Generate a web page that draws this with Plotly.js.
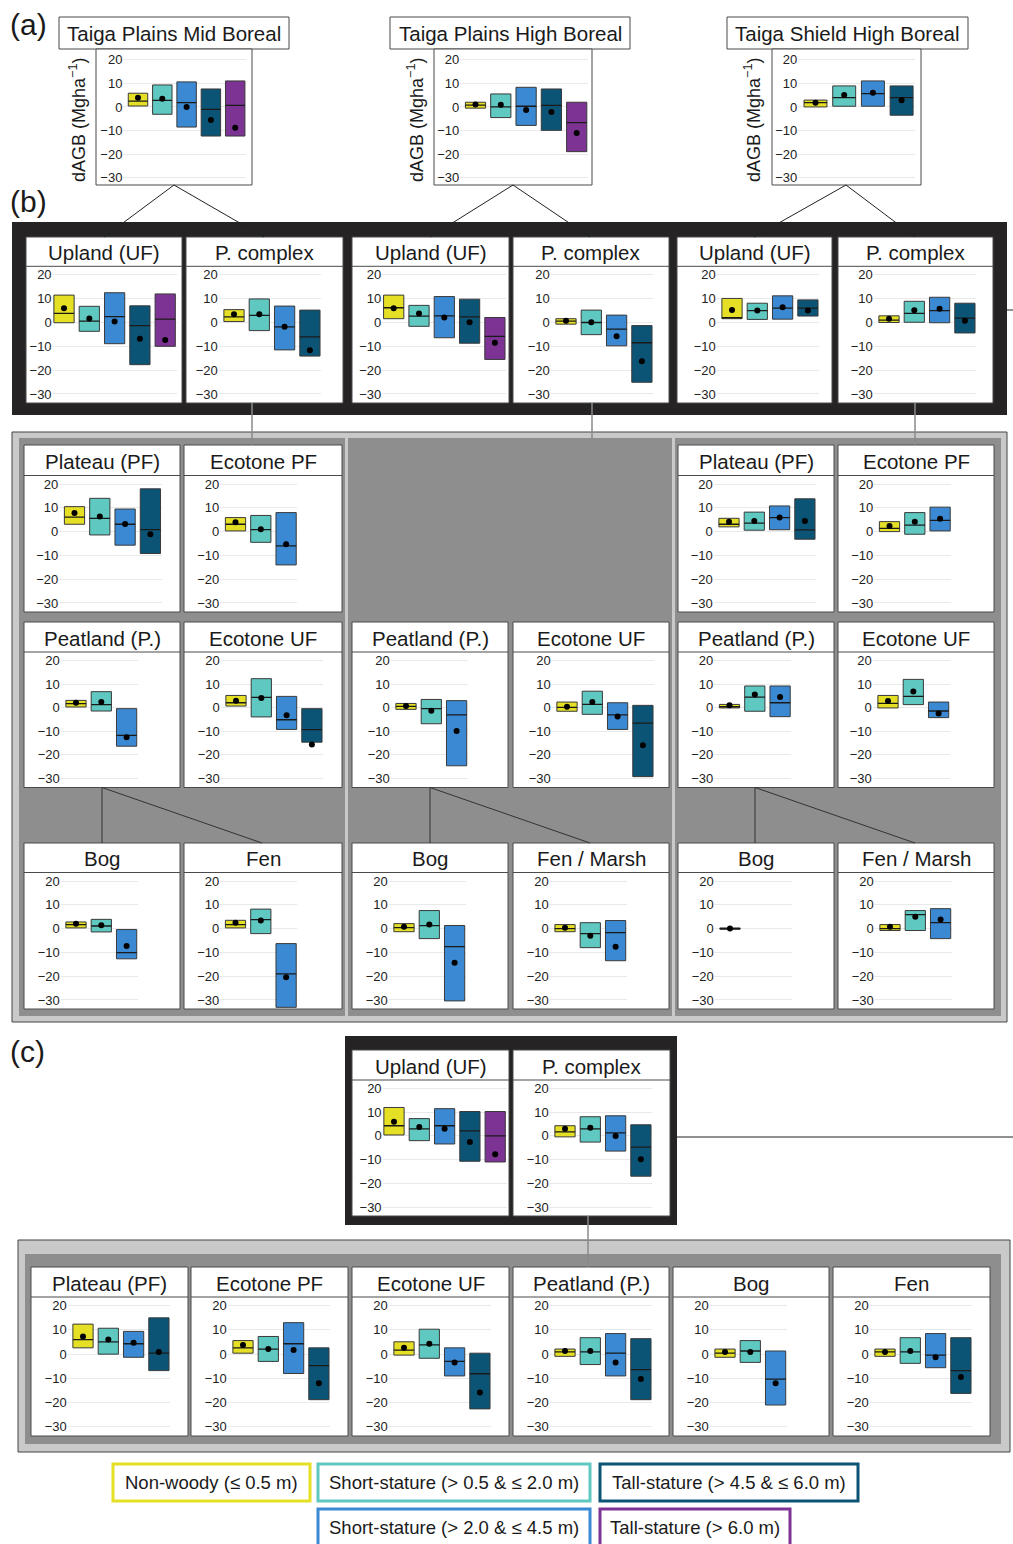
<!DOCTYPE html>
<html><head><meta charset="utf-8">
<script src="https://cdn.plot.ly/plotly-3.0.1.min.js"></script>
<style>html,body{margin:0;padding:0;background:#fff}</style>
</head><body><div id="chart" style="width:1013px;height:1544px"></div>
<script>
// ---- DATA: each row = [q1, median, q3, mean] per stature class ----
const classes = ['Non-woody (≤ 0.5 m)','Short-stature (> 0.5 & ≤ 2.0 m)','Short-stature (> 2.0 & ≤ 4.5 m)','Tall-stature (> 4.5 & ≤ 6.0 m)','Tall-stature (> 6.0 m)'];
const classColors = ['#e5df25','#5ec8c1','#3b89d2','#0c5475','#7c3393'];
const yTicks = [-30,-20,-10,0,10,20];

// (a) ecozones
const a_TPM = [[0.4,2.5,5.8,3.9],[-3.1,2.8,9.3,3.5],[-8.5,1.8,10.6,0],[-12.3,-1,7.6,-5.5],[-12.3,0.7,11,-8.8]];
const a_TPH = [[-0.5,0.8,2.0,1.0],[-4.5,0,5.5,0.9],[-7.8,0.3,8.3,-1.3],[-9.9,0.7,7.6,-2.1],[-18.9,-6.6,2,-11]];
const a_TSH = [[0,1.8,2.9,1.8],[0.3,3.9,8.9,5.1],[0.3,5.6,11,6],[-3.5,3.9,8.9,2.8]];
// (b) upland / peatland complex
const b_TPM_UF = [[-0.1,3.8,11.5,6],[-3.7,0.6,6.8,1.7],[-8.9,2.5,12.5,0.4],[-17.7,-1.3,7,-6.8],[-10,1.4,12,-7.3]];
const b_TPM_PC = [[0.4,2.4,5.4,3.5],[-3.4,3,9.9,3.5],[-11.5,-1.8,6.9,-1.8],[-14.1,-6,5.2,-11.7]];
const b_TPH_UF = [[1.6,6.2,11.5,6],[-1.6,2.7,7.2,3.8],[-6.4,2.8,10.9,2.1],[-8.7,2.4,9.8,0.1],[-15.5,-5.8,2.1,-8.5]];
const b_TPH_PC = [[-0.7,0.6,1.6,0.7],[-5.1,0,5.2,0.1],[-9.8,-2.8,3.1,-5.8],[-25.1,-8.5,-1.3,-16.3]];
const b_TSH_UF = [[1.6,2,10.1,5.2],[1.3,5,8.1,5],[1.4,6,11.2,6.4],[2.7,6,9.5,5]];
const b_TSH_PC = [[0,1,2.8,1.6],[0.1,3.8,8.9,5.1],[-0.1,5,10.6,5.8],[-4.4,1.8,8.1,0.7]];
// (b) peatland complex components
const b_TPM_PF  = [[3.1,6.1,10.5,7.8],[-1.4,5.6,14,6.4],[-5.7,3.1,9.5,3.2],[-9.2,0.8,18,-1.1]];
const b_TPM_EPF = [[0.3,3.1,5.9,3.9],[-4.5,0.8,6.8,1],[-14,-6,8,-5.3]];
const b_TSH_PF  = [[2,3.1,5.6,4.2],[0.6,3.6,8.2,4.5],[0.8,5.9,10.8,5.9],[-3.2,0.7,13.8,4.5]];
const b_TSH_EPF = [[0,1.4,4.2,2.4],[-1.1,2.7,8,4.2],[0.3,4.7,10.3,5.4]];
const b_TPM_P   = [[0.3,1.7,3.1,2.1],[-1.4,1.3,6.8,2.4],[-16.3,-11.7,-0.4,-12.5]];
const b_TPM_EUF = [[0.7,2.1,5.2,3],[-3.9,4.4,12.3,4.1],[-9.2,-5.1,4.8,-3.2],[-14.6,-9.3,-0.4,-15.6]];
const b_TPH_P   = [[-0.7,0.6,1.8,0.7],[-6.8,-0.4,3.5,-1.3],[-24.6,-3,3,-9.9]];
const b_TPH_EUF = [[-1.5,0.1,2.4,0.4],[-2.8,1.4,7,2.4],[-9.2,-3,2.1,-3.7],[-29.2,-6.5,1,-15.9]];
const b_TSH_P   = [[-0.1,0.4,1.4,1],[-1.5,4.5,9.2,5.6],[-3.8,2.1,9.2,4.5]];
const b_TSH_EUF = [[-0.1,1.8,5.2,2.8],[1.3,4.8,12,6.9],[-4.2,-1.4,2.4,-2.4]];
const b_TPM_Bog = [[0.3,1.7,2.8,2],[-1.4,1.1,3.9,1.4],[-12.7,-10.1,-0.4,-7.3]];
const b_TPM_Fen = [[0.3,1.7,3.5,2.5],[-2.1,3.8,8.2,3.4],[-33.1,-19,-6.3,-20.4]];
const b_TPH_Bog = [[-1.3,0.4,2.1,0.8],[-4.2,1.3,7.6,1.7],[-30.4,-7.6,1.3,-14.3]];
const b_TPH_Fen = [[-1.3,0,1.7,0.4],[-8,-2.1,2.5,-3],[-13.5,-1.7,3.4,-7.6]];
const b_TSH_Bog = [[-0.3,0,0.3,0]];
const b_TSH_Fen = [[-0.8,0,1.7,0.8],[-0.8,5.9,7.6,5],[-4.2,2.5,8.4,3.8]];
// (c) whole study area
const c_UF  = [[0.4,4.3,12,6],[-2,3,7.3,3.8],[-3.4,4.3,11.5,3],[-10.7,2.1,10.3,-2.6],[-11,0,10.3,-7.7]];
const c_PC  = [[-0.4,1.7,4.3,3],[-2.6,3,8.1,3.4],[-6.4,1.3,8.5,0],[-17,-4.7,4.7,-9.8]];
const c_PF  = [[2.6,6,12.4,7.3],[0,5.1,10.7,6],[-1.3,4.3,9.4,4.7],[-6.8,0.4,15,0.9]];
const c_EPF = [[0.4,2.6,5.6,3.8],[-3,2.1,7.3,2.1],[-8,4.3,13,1.7],[-18.8,-4.7,2.6,-12]];
const c_EUF = [[-0.4,1.7,5.1,2.6],[-1.7,3.8,10.3,4.3],[-9,-3,2.6,-3.4],[-22.6,-8.1,0.4,-15.8]];
const c_P   = [[-0.9,0.9,2.1,1.3],[-4.3,0.9,6.8,1.3],[-9,0.4,8.5,-3.4],[-18.8,-6.4,6.4,-10.3]];
const c_Bog = [[-1.3,0.4,2.1,0.9],[-3.4,1.3,5.6,0.9],[-21,-10.3,1.3,-12]];
const c_Fen = [[-0.9,0.9,2.1,0.9],[-3.8,0.9,6.8,1.3],[-5.6,-0.4,8.5,-1.3],[-16.2,-6.8,6.8,-9.4]];

// ---- helpers ----
const W = 1013, H = 1544;
const FONT = 'Liberation Sans, Arial, sans-serif';
const TICKSIZE = 13;
const px = x => x / W, py = y => 1 - y / H;
const traces = [], shapes = [], annotations = [];
const layout = {width:W, height:H, margin:{l:0,r:0,t:0,b:0}, paper_bgcolor:'#fff', plot_bgcolor:'rgba(0,0,0,0)',
  showlegend:false, font:{family:FONT, color:'#1a1a1a'}, barmode:'overlay'};
let axN = 0;
function rect(x0,y0,x1,y1,fill,lc,lw){
  shapes.push({type:'rect',xref:'paper',yref:'paper',x0:px(x0),x1:px(x1),y0:py(y1),y1:py(y0),
    fillcolor:fill,line:{color:lc||fill,width:lw===undefined?0:lw},layer:'below'});
}
function seg(x0,y0,x1,y1,color,w,layer){
  shapes.push({type:'line',xref:'paper',yref:'paper',x0:px(x0),x1:px(x1),y0:py(y0),y1:py(y1),
    line:{color:color,width:w},layer:layer||'above'});
}
function text(x,y,t,size,o){
  o = o||{};
  annotations.push(Object.assign({xref:'paper',yref:'paper',x:px(x),y:py(y),text:t,showarrow:false,
    font:{family:FONT,size:size,color:'#1a1a1a'},xanchor:'center',yanchor:'middle'},o));
}
function plotArea(L,T,B,data,n,c0,s,yr){
  axN++;
  const k = axN===1?'':String(axN);
  const xr = [n>=5 ? -0.45 : -0.6, n-1+0.45];
  const dx0 = L + c0 + xr[0]*s, dx1 = L + c0 + xr[1]*s;
  layout['xaxis'+k] = {domain:[px(dx0),px(dx1)], range:xr, anchor:'y'+k, showgrid:false, zeroline:false,
    showticklabels:false, showline:false, ticks:'', fixedrange:true};
  layout['yaxis'+k] = {domain:[py(B),py(T)], range:yr, anchor:'x'+k, tickvals:yTicks,
    gridcolor:'#e9e9e9', gridwidth:1, zeroline:false, showline:false, ticks:'',
    tickfont:{family:FONT,size:TICKSIZE,color:'#222'}, fixedrange:true};
  const idx = data.map((d,i)=>i);
  const bw = 0.8;
  traces.push({type:'bar', x:idx, base:data.map(d=>d[0]), y:data.map(d=>d[2]-d[0]), width:bw,
    marker:{color:idx.map(i=>classColors[i]), line:{color:'#3a3a3a',width:1}},
    xaxis:'x'+k, yaxis:'y'+k, hoverinfo:'skip'});
  const mx = [], my = [];
  data.forEach((d,i)=>{ mx.push(i-bw/2, i+bw/2, null); my.push(d[1], d[1], null); });
  traces.push({type:'scatter', mode:'lines', x:mx, y:my, line:{color:'#1a1a1a',width:1.3},
    xaxis:'x'+k, yaxis:'y'+k, hoverinfo:'skip'});
  traces.push({type:'scatter', mode:'markers', x:idx, y:data.map(d=>d[3]),
    marker:{color:'#000',size:6}, xaxis:'x'+k, yaxis:'y'+k, hoverinfo:'skip'});
}
function panel(L,T,Wd,Hd,th,title,data,n,c0){
  rect(L,T,L+Wd,T+Hd,'#ffffff','#4a4a4a',1);
  seg(L,T+th,L+Wd,T+th,'#4a4a4a',1,'below');
  text(L+Wd/2, T+th/2+1, title, 20.5);
  plotArea(L,T+th,T+Hd,data,n,c0,25.3,[-33.8,23.6]);
}
function aPanel(tx0,tx1,bx0,bx1,title,data,n,c0,s,labX){
  rect(tx0,17,tx1,49,'#ffffff','#4a4a4a',1);
  text((tx0+tx1)/2, 33.5, title, 20.5);
  rect(bx0,49,bx1,185,'#ffffff','#4a4a4a',1);
  axN++;
  const k = axN===1?'':String(axN);
  const xr = [-0.6, n-1+0.45];
  const dx0 = bx0 + c0 + xr[0]*s, dx1 = bx0 + c0 + xr[1]*s;
  layout['xaxis'+k] = {domain:[px(dx0),px(dx1)], range:xr, anchor:'y'+k, showgrid:false, zeroline:false,
    showticklabels:false, showline:false, ticks:'', fixedrange:true};
  layout['yaxis'+k] = {domain:[py(185),py(49)], range:[-33,24.5], anchor:'x'+k, tickvals:yTicks,
    gridcolor:'#e9e9e9', zeroline:false, showline:false, ticks:'',
    tickfont:{family:FONT,size:TICKSIZE,color:'#222'}, fixedrange:true};
  const idx = data.map((d,i)=>i), bw = 0.8;
  traces.push({type:'bar', x:idx, base:data.map(d=>d[0]), y:data.map(d=>d[2]-d[0]), width:bw,
    marker:{color:idx.map(i=>classColors[i]), line:{color:'#3a3a3a',width:1}},
    xaxis:'x'+k, yaxis:'y'+k, hoverinfo:'skip'});
  const mx=[], my=[];
  data.forEach((d,i)=>{ mx.push(i-bw/2,i+bw/2,null); my.push(d[1],d[1],null); });
  traces.push({type:'scatter', mode:'lines', x:mx, y:my, line:{color:'#1a1a1a',width:1.3},
    xaxis:'x'+k, yaxis:'y'+k, hoverinfo:'skip'});
  traces.push({type:'scatter', mode:'markers', x:idx, y:data.map(d=>d[3]),
    marker:{color:'#000',size:6}, xaxis:'x'+k, yaxis:'y'+k, hoverinfo:'skip'});
  text(labX, 120, 'dAGB (Mgha<sup>−1</sup>)', 18, {textangle:-90});
}

// ---- background frames ----
rect(12,222,1007,415,'#262324');                 // (b) dark frame
rect(12,432,1007,1022,'#c9c9c9','#444',1);       // (b) gray frame
rect(19,438,345,1016,'#8e8e8e');
rect(348,438,672,1016,'#8e8e8e');
rect(675,438,1001,1016,'#8e8e8e');
rect(345,1036,677,1225,'#262324');               // (c) dark frame
rect(18,1240,1010,1452,'#c9c9c9','#444',1);      // (c) gray frame
rect(25,1254,1001,1444,'#8e8e8e');

// ---- (a) ----
aPanel(59,289,96,252,'Taiga Plains Mid Boreal',a_TPM,5,42,24.3,77);
aPanel(390,630,434,592,'Taiga Plains High Boreal',a_TPH,5,41.5,25.3,415);
aPanel(727,968,772,921,'Taiga Shield High Boreal',a_TSH,4,43.5,28.7,752);

// ---- (b) top row ----
panel(26,237,156,166,29.3,'Upland (UF)',b_TPM_UF,5,38);
panel(186,237,157,166,29.3,'P. complex',b_TPM_PC,4,48);
panel(352,237,157,166,29.3,'Upland (UF)',b_TPH_UF,5,41.7);
panel(513,237,156,166,29.3,'P. complex',b_TPH_PC,4,53);
panel(677,237,155,166,29.3,'Upland (UF)',b_TSH_UF,4,55);
panel(838,237,155,166,29.3,'P. complex',b_TSH_PC,4,51);

// ---- (b) lower ----
panel(24,445,156,167,30.5,'Plateau (PF)',b_TPM_PF,4,50.5);
panel(184,445,158,167,30.5,'Ecotone PF',b_TPM_EPF,3,51.5);
panel(678,445,156,167,30.5,'Plateau (PF)',b_TSH_PF,4,51);
panel(838,445,156,167,30.5,'Ecotone PF',b_TSH_EPF,3,51.5);

panel(24,622,156,165.5,30,'Peatland (P.)',b_TPM_P,3,52);
panel(184,622,158,165.5,30,'Ecotone UF',b_TPM_EUF,4,52);
panel(352,622,156,165.5,30,'Peatland (P.)',b_TPH_P,3,54);
panel(513,622,156,165.5,30,'Ecotone UF',b_TPH_EUF,4,54);
panel(678,622,156,165.5,30,'Peatland (P.)',b_TSH_P,3,51.5);
panel(838,622,156,165.5,30,'Ecotone UF',b_TSH_EUF,3,50);

panel(24,843,156,166,29.5,'Bog',b_TPM_Bog,3,52);
panel(184,843,158,166,29.5,'Fen',b_TPM_Fen,3,51.5);
panel(352,843,156,166,29.5,'Bog',b_TPH_Bog,3,52);
panel(513,843,156,166,29.5,'Fen / Marsh',b_TPH_Fen,3,52);
panel(678,843,156,166,29.5,'Bog',b_TSH_Bog,3,52);
panel(838,843,156,166,29.5,'Fen / Marsh',b_TSH_Fen,3,52);

// ---- (c) ----
panel(352,1050,157,166,30,'Upland (UF)',c_UF,5,42);
panel(513,1050,157,166,30,'P. complex',c_PC,4,52);
panel(31,1267,157,169,30,'Plateau (PF)',c_PF,4,52);
panel(191,1267,157,169,30,'Ecotone PF',c_EPF,4,52);
panel(352,1267,157,169,30,'Ecotone UF',c_EUF,4,52);
panel(513,1267,156,169,30,'Peatland (P.)',c_P,4,52);
panel(673,1267,156,169,30,'Bog',c_Bog,3,52);
panel(833,1267,157,169,30,'Fen',c_Fen,4,52);

// ---- connector lines ----
[[174,104,264],[513,430,590],[846,754,915]].forEach(c=>{
  seg(c[0],185,c[1],237,'#222',1); seg(c[0],185,c[2],237,'#222',1);
});
seg(252,403,252,445,'#8a8a8a',1.5);
seg(592,403,592,438,'#8a8a8a',1.5);
seg(915,403,915,445,'#8a8a8a',1.5);
seg(588,1216,588,1267,'#8a8a8a',1.5);
[[102,262],[430,590],[755,915]].forEach(c=>{
  seg(c[0],787.5,c[0],843,'#333',1); seg(c[0],787.5,c[1],843,'#333',1);
});
seg(1007,310,1013,310,'#222',1);
seg(677,1137,1013,1137,'#222',1);

// ---- section labels ----
text(8,25,'(a)',30,{xanchor:'left'});
text(8,201,'(b)',30,{xanchor:'left'});
text(8,1051,'(c)',30,{xanchor:'left'});

// ---- legend ----
const legendBoxes = [[113,1464,310,1501],[318,1464,590,1501],[318,1509,590,1546],[600,1464,858,1501],[600,1509,790,1546]];
const legendOrder = [0,1,2,3,4];
legendOrder.forEach((ci,j)=>{
  const b = legendBoxes[j];
  rect(b[0],b[1],b[2],b[3],'#ffffff',classColors[ci],3);
  text((b[0]+b[2])/2,(b[1]+b[3])/2,classes[ci],18.5);
});

layout.shapes = shapes;
layout.annotations = annotations;
Plotly.newPlot('chart', traces, layout, {staticPlot:true});
</script></body></html>
